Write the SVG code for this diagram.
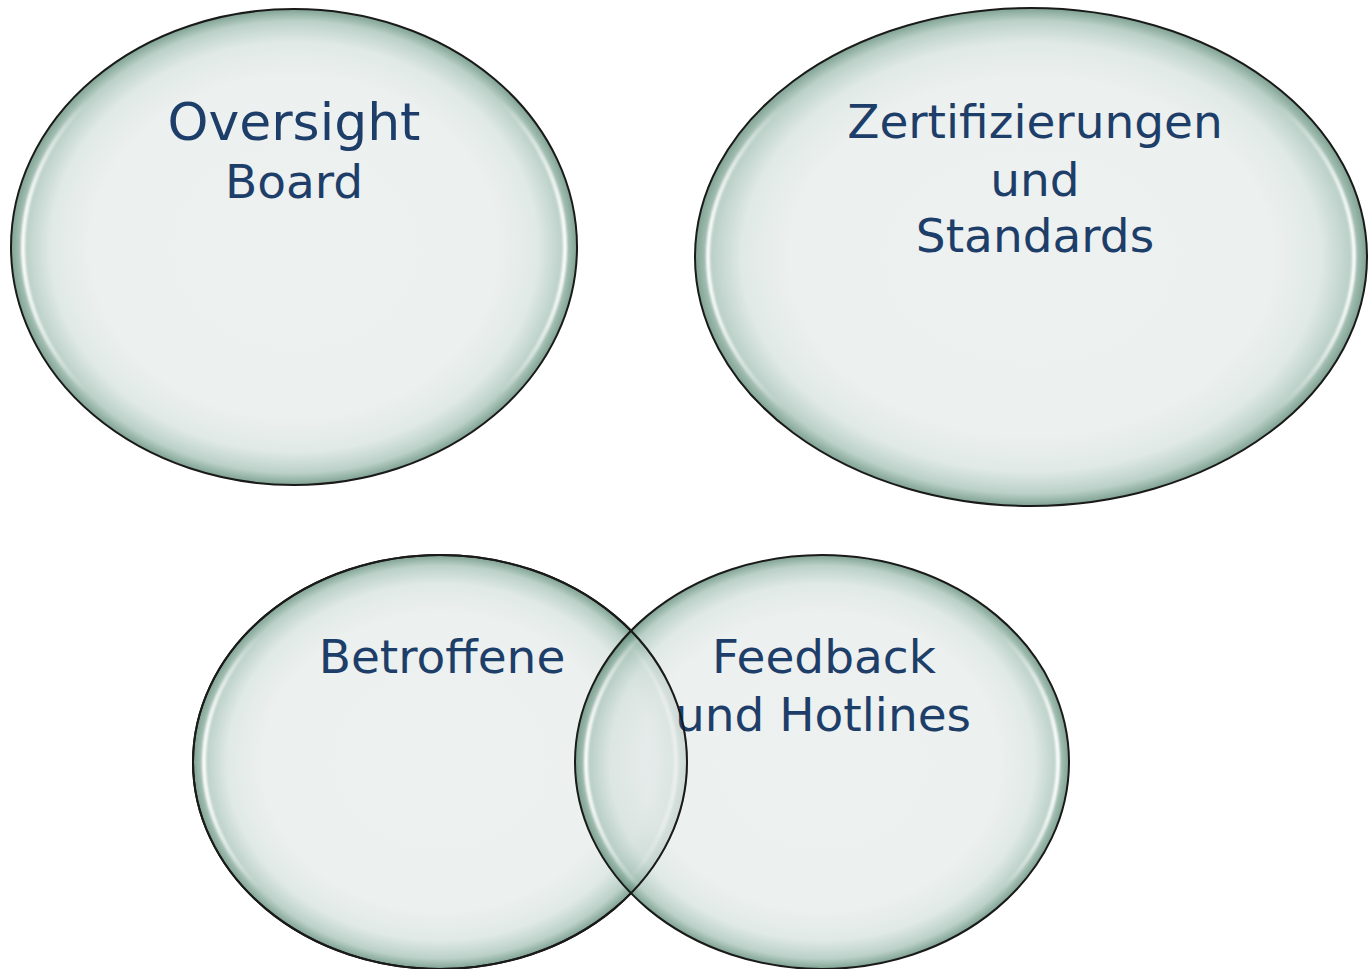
<svg xmlns="http://www.w3.org/2000/svg" width="1368" height="969" viewBox="0 0 1368 969">
  <defs>
    <radialGradient id="bub" cx="0.5" cy="0.5" r="0.5">
      <stop offset="0" stop-color="#E7ECEB"/>
      <stop offset="0.72" stop-color="#E6EBEA"/>
      <stop offset="0.86" stop-color="#D6E2DE"/>
      <stop offset="0.95" stop-color="#A4C1B6"/>
      <stop offset="1" stop-color="#54836E"/>
    </radialGradient>
    <linearGradient id="glint" x1="0" y1="0" x2="1" y2="0">
      <stop offset="0" stop-color="#FFFFFF" stop-opacity="0.95"/>
      <stop offset="0.12" stop-color="#FFFFFF" stop-opacity="0"/>
      <stop offset="0.88" stop-color="#FFFFFF" stop-opacity="0"/>
      <stop offset="1" stop-color="#FFFFFF" stop-opacity="0.95"/>
    </linearGradient>
    <filter id="soft" x="-5%" y="-5%" width="110%" height="110%">
      <feGaussianBlur stdDeviation="1.2"/>
    </filter>
  </defs>
  <style>
    .shape { fill: url(#bub); fill-opacity: 0.75; stroke: #1A1A1A; stroke-width: 2; }
    .outline { fill: none; stroke: #1A1A1A; stroke-width: 2; }
    .hl { fill: none; stroke: url(#glint); stroke-width: 4; filter: url(#soft); }
    .lbl { font-family: "DejaVu Sans", Verdana, sans-serif; font-size: 47px; fill: #1E3E6A; text-anchor: middle; }
  </style>
  <rect width="1368" height="969" fill="#FFFFFF"/>

  <g id="node-oversight">
    <ellipse class="shape" cx="294" cy="247" rx="283" ry="238"/>
    <ellipse class="hl" cx="294" cy="247" rx="271" ry="226"/>
    <text class="lbl" x="294" y="140" style="font-size:52px">Oversight</text>
    <text class="lbl" x="294" y="198">Board</text>
  </g>

  <g id="node-zertifizierungen">
    <ellipse class="shape" cx="1031" cy="257" rx="336" ry="249"/>
    <ellipse class="hl" cx="1031" cy="257" rx="323" ry="237"/>
    <text class="lbl" x="1035" y="138">Zertifizierungen</text>
    <text class="lbl" x="1035" y="196">und</text>
    <text class="lbl" x="1035" y="252">Standards</text>
  </g>

  <g id="node-betroffene">
    <ellipse class="shape" cx="440" cy="762" rx="247" ry="207"/>
    <ellipse class="hl" cx="440" cy="762" rx="236" ry="197"/>
    <text class="lbl" x="442" y="673">Betroffene</text>
  </g>

  <g id="node-feedback">
    <ellipse class="shape" cx="822" cy="762" rx="247" ry="207"/>
    <ellipse class="hl" cx="822" cy="762" rx="236" ry="197"/>
    <text class="lbl" x="824" y="673">Feedback</text>
    <text class="lbl" x="823" y="731">und Hotlines</text>
  </g>

  <g id="overlap-outline">
    <ellipse class="outline" cx="440" cy="762" rx="247" ry="207"/>
  </g>

  <g id="connectors"></g>
</svg>
